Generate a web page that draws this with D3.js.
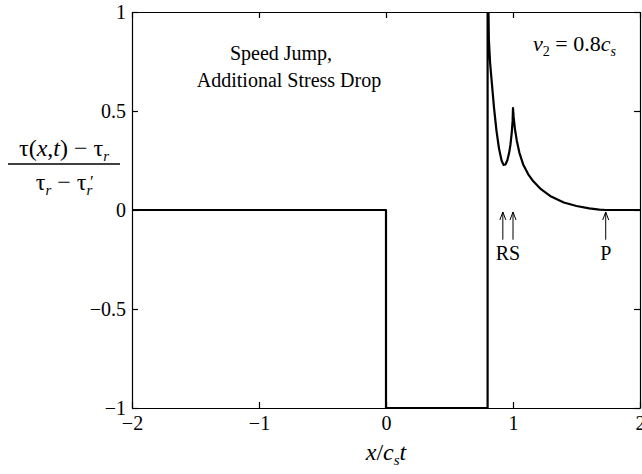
<!DOCTYPE html>
<html>
<head>
<meta charset="utf-8">
<script src="https://cdn.jsdelivr.net/npm/d3@7"></script>
<style>
  body { margin: 0; background: #fff; }
  text { font-family: "Liberation Serif", "Times New Roman", serif; fill: #000; }
</style>
</head>
<body>
<div id="chart"></div>
<script>
// Data
var xTicks = [-2, -1, 0, 1, 2];
var yTicks = [-1, -0.5, 0, 0.5, 1];
var xTickLabels = ["\u22122", "\u22121", "0", "1", "2"];
var yTickLabels = ["\u22121", "\u22120.5", "0", "0.5", "1"];

// stress curve
var stressX = [-2, 0, 0, 0.8, 0.8, 0.803, 0.81, 0.82, 0.835, 0.85, 0.87, 0.89, 0.91, 0.925, 0.94,
  0.955, 0.97, 0.98, 0.99, 0.997, 1.0, 1.005, 1.015, 1.03, 1.05, 1.08, 1.12, 1.16, 1.22, 1.3,
  1.4, 1.5, 1.6, 1.68, 1.73, 2];
var stressY = [0, 0, -1, -1, 1.2, 1.2, 0.86, 0.74, 0.63, 0.52, 0.4, 0.31, 0.25, 0.228, 0.23,
  0.25, 0.29, 0.33, 0.39, 0.45, 0.515, 0.47, 0.41, 0.35, 0.29, 0.23, 0.18, 0.145, 0.105, 0.068,
  0.038, 0.02, 0.008, 0.002, 0, 0];

// wave arrivals
var arrivalNames = ["R", "S", "P"];
var arrivalX = [0.92, 1.0, 1.73];

var svgWidth = 642;
var svgHeight = 474;
var margin = { top: 12, right: 2, bottom: 66, left: 132 };
var chartWidth = svgWidth - margin.left - margin.right;
var chartHeight = svgHeight - margin.top - margin.bottom;

var svg = d3.select("#chart").append("svg")
  .attr("width", svgWidth)
  .attr("height", svgHeight);

var chartGroup = svg.append("g")
  .attr("transform", `translate(${margin.left}, ${margin.top})`);

var xScale = d3.scaleLinear().domain([-2, 2]).range([0, chartWidth]);
var yScale = d3.scaleLinear().domain([-1, 1]).range([chartHeight, 0]);

// clip for the curve going off the top
chartGroup.append("clipPath").attr("id", "plotClip")
  .append("rect").attr("width", chartWidth).attr("height", chartHeight);

// axes, ticks pointing in, mirrored on the other sides
var tickLen = 6;
var bottomAxis = d3.axisBottom(xScale).tickValues(xTicks)
  .tickFormat((d, i) => xTickLabels[i]).tickSizeInner(-tickLen).tickSizeOuter(0).tickPadding(8);
var topAxis = d3.axisTop(xScale).tickValues(xTicks).tickFormat("").tickSizeInner(-tickLen).tickSizeOuter(0);
var leftAxis = d3.axisLeft(yScale).tickValues(yTicks)
  .tickFormat((d, i) => yTickLabels[i]).tickSizeInner(-tickLen).tickSizeOuter(0).tickPadding(6);
var rightAxis = d3.axisRight(yScale).tickValues(yTicks).tickFormat("").tickSizeInner(-tickLen).tickSizeOuter(0);

chartGroup.append("g").attr("class", "axis")
  .attr("transform", `translate(0, ${chartHeight})`).call(bottomAxis);
chartGroup.append("g").attr("class", "axis").call(topAxis);
chartGroup.append("g").attr("class", "axis").call(leftAxis);
chartGroup.append("g").attr("class", "axis")
  .attr("transform", `translate(${chartWidth}, 0)`).call(rightAxis);

chartGroup.selectAll(".axis path, .axis line")
  .attr("stroke", "#000").attr("stroke-width", 1.2);
chartGroup.selectAll(".axis text")
  .style("font-family", "'Liberation Serif', serif")
  .style("font-size", "20px")
  .attr("fill", "#000");

// the curve
var line = d3.line()
  .x((d, i) => xScale(stressX[i]))
  .y(d => yScale(d));

chartGroup.append("path")
  .datum(stressY)
  .attr("clip-path", "url(#plotClip)")
  .attr("fill", "none")
  .attr("stroke", "#000")
  .attr("stroke-width", 2.2)
  .attr("stroke-linejoin", "round")
  .attr("d", line);

// arrows at the arrivals
arrivalX.forEach(function(ax) {
  var px = xScale(ax);
  var tip = yScale(-0.01);
  var tail = yScale(-0.15);
  chartGroup.append("path")
    .attr("d", `M${px},${tail} L${px},${tip} M${px - 3},${tip + 8} L${px},${tip} L${px + 3},${tip + 8}`)
    .attr("fill", "none")
    .attr("stroke", "#000")
    .attr("stroke-width", 1);
});

chartGroup.append("text")
  .attr("x", (xScale(arrivalX[0]) + xScale(arrivalX[1])) / 2)
  .attr("y", yScale(-0.25))
  .attr("text-anchor", "middle")
  .style("font-size", "20px")
  .text(arrivalNames[0] + arrivalNames[1]);

chartGroup.append("text")
  .attr("x", xScale(arrivalX[2]))
  .attr("y", yScale(-0.25))
  .attr("text-anchor", "middle")
  .style("font-size", "20px")
  .text(arrivalNames[2]);

// annotation text
svg.append("text")
  .attr("x", 281).attr("y", 60)
  .attr("text-anchor", "middle")
  .style("font-size", "20px")
  .text("Speed Jump,");
svg.append("text")
  .attr("x", 289).attr("y", 87)
  .attr("text-anchor", "middle")
  .style("font-size", "20px")
  .text("Additional Stress Drop");

// v2 = 0.8 cs
var vText = svg.append("text")
  .attr("x", 533).attr("y", 51)
  .style("font-size", "22px");
vText.append("tspan").style("font-style", "italic").text("v");
vText.append("tspan").attr("dy", 5).style("font-size", "14px").text("2");
vText.append("tspan").attr("dy", -5).text(" = 0.8");
vText.append("tspan").style("font-style", "italic").text("c");
vText.append("tspan").attr("dy", 5).style("font-size", "14px").style("font-style", "italic").text("s");

// y axis label as a fraction
var num = svg.append("text")
  .attr("x", 64).attr("y", 156)
  .attr("text-anchor", "middle")
  .style("font-size", "24px");
num.append("tspan").text("\u03c4(");
num.append("tspan").style("font-style", "italic").text("x");
num.append("tspan").text(",");
num.append("tspan").style("font-style", "italic").text("t");
num.append("tspan").text(") \u2212 \u03c4");
num.append("tspan").attr("dy", 5).style("font-size", "15px").style("font-style", "italic").text("r");

svg.append("line")
  .attr("x1", 8).attr("x2", 120)
  .attr("y1", 164).attr("y2", 164)
  .attr("stroke", "#000").attr("stroke-width", 1.4);

var den = svg.append("text")
  .attr("x", 64).attr("y", 190)
  .attr("text-anchor", "middle")
  .style("font-size", "24px");
den.append("tspan").text("\u03c4");
den.append("tspan").attr("dy", 5).style("font-size", "15px").style("font-style", "italic").text("r");
den.append("tspan").attr("dy", -5).text(" \u2212 \u03c4");
den.append("tspan").attr("dy", 5).style("font-size", "15px").style("font-style", "italic").text("r");
// prime over the last subscript
svg.append("text")
  .attr("x", 90).attr("y", 187)
  .style("font-size", "17px")
  .text("\u2032");

// x axis label
var xl = svg.append("text")
  .attr("x", margin.left + xScale(0)).attr("y", 460)
  .attr("text-anchor", "middle")
  .style("font-size", "24px")
  .style("font-style", "italic");
xl.append("tspan").text("x");
xl.append("tspan").style("font-style", "normal").text("/");
xl.append("tspan").text("c");
xl.append("tspan").attr("dy", 5).style("font-size", "15px").text("s");
xl.append("tspan").attr("dy", -5).text("t");
</script>
</body>
</html>
